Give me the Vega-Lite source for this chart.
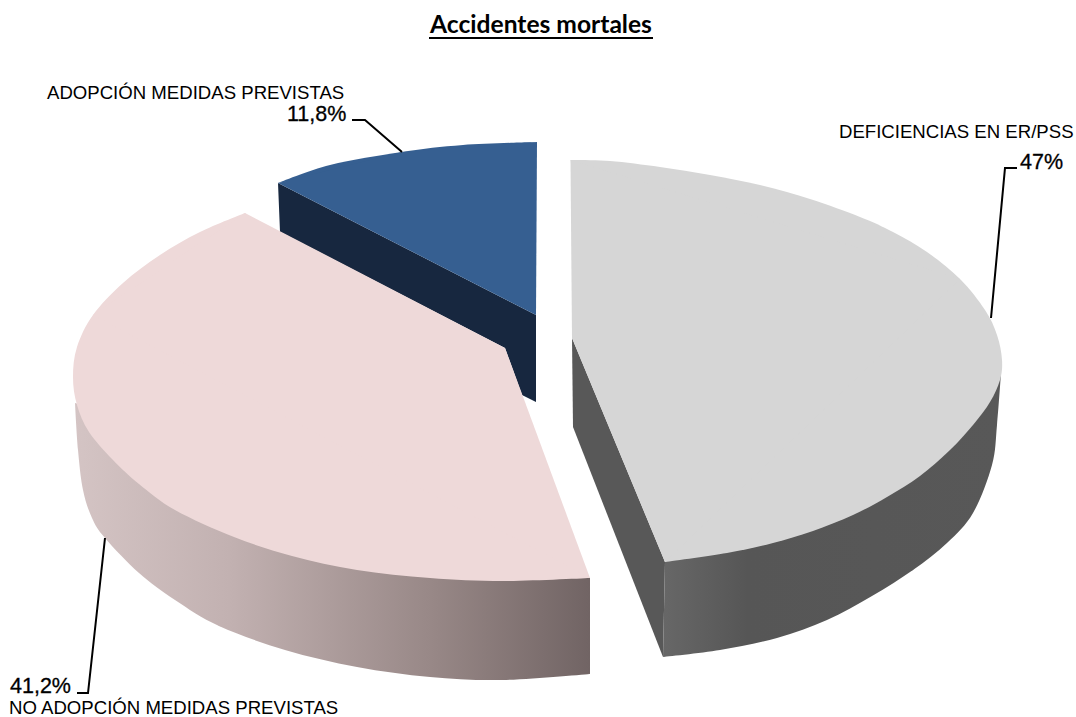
{
"$schema":"https://vega.github.io/schema/vega-lite/v6.json",
"width":1076,"height":717,"padding":0,"autosize":{"type":"none"},"background":"white",
"config":{"view":{"stroke":null}},
"datasets":{
"shapes":[
{"part":"gl","i":1,"x":572,"y":338},{"part":"gl","i":2,"x":665,"y":562},{"part":"gl","i":3,"x":663,"y":657},{"part":"gl","i":4,"x":573,"y":427},
{"part":"gwb","i":1,"x":1001,"y":373},{"part":"gwb","i":2,"x":997,"y":425},{"part":"gwb","i":3,"x":992,"y":465},{"part":"gwb","i":4,"x":973,"y":513},{"part":"gwb","i":5,"x":947,"y":543},{"part":"gwb","i":6,"x":913,"y":570},{"part":"gwb","i":7,"x":872,"y":596},{"part":"gwb","i":8,"x":827,"y":620},{"part":"gwb","i":9,"x":777,"y":638},{"part":"gwb","i":10,"x":720,"y":650},{"part":"gwb","i":11,"x":663,"y":657},
{"part":"gwp","i":1,"x":1001,"y":373},{"part":"gwp","i":2,"x":665,"y":562},{"part":"gwp","i":3,"x":663,"y":657},{"part":"gwp","i":4,"x":913,"y":570},
{"part":"gc","i":1,"x":570.5,"y":160},{"part":"gc","i":2,"x":610,"y":161},{"part":"gc","i":3,"x":660,"y":167},{"part":"gc","i":4,"x":710,"y":175},{"part":"gc","i":5,"x":760,"y":185},{"part":"gc","i":6,"x":810,"y":199},{"part":"gc","i":7,"x":860,"y":217},{"part":"gc","i":8,"x":893,"y":232},{"part":"gc","i":9,"x":927,"y":252},{"part":"gc","i":10,"x":960,"y":279},{"part":"gc","i":11,"x":985,"y":310},{"part":"gc","i":12,"x":997,"y":335},{"part":"gc","i":13,"x":1002,"y":360},{"part":"gc","i":14,"x":1000,"y":380},{"part":"gc","i":15,"x":990,"y":402},{"part":"gc","i":16,"x":973,"y":425},{"part":"gc","i":17,"x":950,"y":450},{"part":"gc","i":18,"x":920,"y":476},{"part":"gc","i":19,"x":887,"y":497},{"part":"gc","i":20,"x":853,"y":515},{"part":"gc","i":21,"x":813,"y":531},{"part":"gc","i":22,"x":773,"y":543},{"part":"gc","i":23,"x":727,"y":553},{"part":"gc","i":24,"x":665,"y":562},
{"part":"gp","i":1,"x":570.5,"y":160},{"part":"gp","i":2,"x":960,"y":279},{"part":"gp","i":3,"x":665,"y":562},{"part":"gp","i":4,"x":572,"y":338},
{"part":"al","i":1,"x":278,"y":183},{"part":"al","i":2,"x":536,"y":315},{"part":"al","i":3,"x":536,"y":402},{"part":"al","i":4,"x":522,"y":395},{"part":"al","i":5,"x":505,"y":348},{"part":"al","i":6,"x":280,"y":232},
{"part":"ac","i":1,"x":278,"y":183},{"part":"ac","i":2,"x":330,"y":165},{"part":"ac","i":3,"x":402,"y":152},{"part":"ac","i":4,"x":463,"y":145},{"part":"ac","i":5,"x":537,"y":142},
{"part":"ap","i":1,"x":278,"y":183},{"part":"ap","i":2,"x":402,"y":152},{"part":"ap","i":3,"x":537,"y":142},{"part":"ap","i":4,"x":536,"y":315},
{"part":"rwb","i":1,"x":75,"y":403},{"part":"rwb","i":2,"x":78,"y":450},{"part":"rwb","i":3,"x":83,"y":490},{"part":"rwb","i":4,"x":92,"y":518},{"part":"rwb","i":5,"x":105,"y":538},{"part":"rwb","i":6,"x":139,"y":573},{"part":"rwb","i":7,"x":175,"y":600},{"part":"rwb","i":8,"x":219,"y":626},{"part":"rwb","i":9,"x":285,"y":650},{"part":"rwb","i":10,"x":357,"y":667},{"part":"rwb","i":11,"x":430,"y":677},{"part":"rwb","i":12,"x":503,"y":680},{"part":"rwb","i":13,"x":590,"y":674},
{"part":"rwp","i":1,"x":75,"y":403},{"part":"rwp","i":2,"x":590,"y":578},{"part":"rwp","i":3,"x":590,"y":674},{"part":"rwp","i":4,"x":219,"y":626},
{"part":"rc","i":1,"x":245,"y":213},{"part":"rc","i":2,"x":200,"y":232},{"part":"rc","i":3,"x":160,"y":255},{"part":"rc","i":4,"x":123,"y":283},{"part":"rc","i":5,"x":93,"y":315},{"part":"rc","i":6,"x":77,"y":347},{"part":"rc","i":7,"x":73,"y":377},{"part":"rc","i":8,"x":77,"y":405},{"part":"rc","i":9,"x":89,"y":432},{"part":"rc","i":10,"x":113,"y":460},{"part":"rc","i":11,"x":139,"y":484},{"part":"rc","i":12,"x":175,"y":510},{"part":"rc","i":13,"x":234,"y":537},{"part":"rc","i":14,"x":292,"y":556},{"part":"rc","i":15,"x":357,"y":570},{"part":"rc","i":16,"x":430,"y":578},{"part":"rc","i":17,"x":503,"y":581},{"part":"rc","i":18,"x":590,"y":578},
{"part":"rp","i":1,"x":245,"y":213},{"part":"rp","i":2,"x":93,"y":315},{"part":"rp","i":3,"x":590,"y":578},{"part":"rp","i":4,"x":505,"y":348}
],
"leaders":[
{"part":"g","i":1,"x":991,"y":318},{"part":"g","i":2,"x":1005,"y":168},{"part":"g","i":3,"x":1017,"y":168},
{"part":"b","i":1,"x":352,"y":120},{"part":"b","i":2,"x":365,"y":120},{"part":"b","i":3,"x":402,"y":152},
{"part":"r","i":1,"x":105,"y":538},{"part":"r","i":2,"x":88,"y":693},{"part":"r","i":3,"x":77,"y":693},
{"part":"t","i":1,"x":429,"y":38},{"part":"t","i":2,"x":653,"y":38}
],
"cats":[
{"label":"DEFICIENCIAS EN ER/PSS","x":839,"y":132},
{"label":"ADOPCIÓN MEDIDAS PREVISTAS","x":47,"y":93},
{"label":"NO ADOPCIÓN MEDIDAS PREVISTAS","x":9,"y":708}
],
"pcts":[
{"label":"47%","share":47,"x":1020,"y":163},
{"label":"11,8%","share":11.8,"x":287,"y":115},
{"label":"41,2%","share":41.2,"x":10,"y":687}
],
"titles":[{"label":"Accidentes mortales","x":541,"y":26}]
},
"encoding":{
"x":{"field":"x","type":"quantitative","axis":null,"scale":{"domain":[0,1076],"nice":false,"zero":false}},
"y":{"field":"y","type":"quantitative","axis":null,"scale":{"domain":[717,0],"nice":false,"zero":false}}
},
"layer":[
{"data":{"name":"shapes"},"transform":[{"filter":"datum.part==='gl'"}],"mark":{"type":"line","fill":"#585858","strokeWidth":0},"encoding":{"order":{"field":"i"}}},
{"data":{"name":"shapes"},"transform":[{"filter":"datum.part==='gwb'"}],"mark":{"type":"line","interpolate":"cardinal","strokeWidth":0,"fill":{"gradient":"linear","x1":0,"x2":1,"y1":0,"y2":0,"stops":[{"offset":0,"color":"#676767"},{"offset":0.25,"color":"#565656"},{"offset":1,"color":"#585858"}]}},"encoding":{"order":{"field":"i"}}},
{"data":{"name":"shapes"},"transform":[{"filter":"datum.part==='gwp'"}],"mark":{"type":"line","strokeWidth":0,"fill":{"gradient":"linear","x1":0,"x2":1,"y1":0,"y2":0,"stops":[{"offset":0,"color":"#676767"},{"offset":0.25,"color":"#565656"},{"offset":1,"color":"#585858"}]}},"encoding":{"order":{"field":"i"}}},
{"data":{"name":"shapes"},"transform":[{"filter":"datum.part==='gc'"}],"mark":{"type":"line","interpolate":"cardinal","fill":"#d6d6d6","strokeWidth":0},"encoding":{"order":{"field":"i"}}},
{"data":{"name":"shapes"},"transform":[{"filter":"datum.part==='gp'"}],"mark":{"type":"line","fill":"#d6d6d6","strokeWidth":0},"encoding":{"order":{"field":"i"}}},
{"data":{"name":"shapes"},"transform":[{"filter":"datum.part==='al'"}],"mark":{"type":"line","fill":"#17273f","strokeWidth":0},"encoding":{"order":{"field":"i"}}},
{"data":{"name":"shapes"},"transform":[{"filter":"datum.part==='ac'"}],"mark":{"type":"line","interpolate":"cardinal","fill":"#365f91","strokeWidth":0},"encoding":{"order":{"field":"i"}}},
{"data":{"name":"shapes"},"transform":[{"filter":"datum.part==='ap'"}],"mark":{"type":"line","fill":"#365f91","strokeWidth":0},"encoding":{"order":{"field":"i"}}},
{"data":{"name":"shapes"},"transform":[{"filter":"datum.part==='rwb'"}],"mark":{"type":"line","interpolate":"cardinal","strokeWidth":0,"fill":{"gradient":"linear","x1":0,"x2":1,"y1":0,"y2":0,"stops":[{"offset":0,"color":"#d4c4c4"},{"offset":0.3,"color":"#c2b1b1"},{"offset":0.7,"color":"#978786"},{"offset":1,"color":"#716464"}]}},"encoding":{"order":{"field":"i"}}},
{"data":{"name":"shapes"},"transform":[{"filter":"datum.part==='rwp'"}],"mark":{"type":"line","strokeWidth":0,"fill":{"gradient":"linear","x1":0,"x2":1,"y1":0,"y2":0,"stops":[{"offset":0,"color":"#d4c4c4"},{"offset":0.3,"color":"#c2b1b1"},{"offset":0.7,"color":"#978786"},{"offset":1,"color":"#716464"}]}},"encoding":{"order":{"field":"i"}}},
{"data":{"name":"shapes"},"transform":[{"filter":"datum.part==='rc'"}],"mark":{"type":"line","interpolate":"cardinal","fill":"#eed9d9","strokeWidth":0},"encoding":{"order":{"field":"i"}}},
{"data":{"name":"shapes"},"transform":[{"filter":"datum.part==='rp'"}],"mark":{"type":"line","fill":"#eed9d9","strokeWidth":0},"encoding":{"order":{"field":"i"}}},
{"data":{"name":"leaders"},"mark":{"type":"line","color":"#000000","strokeWidth":2},"encoding":{"detail":{"field":"part"},"order":{"field":"i"}}},
{"data":{"name":"cats"},"mark":{"type":"text","align":"left","baseline":"middle","font":"Liberation Sans","fontSize":18.6,"color":"#000000"},"encoding":{"text":{"field":"label"}}},
{"data":{"name":"pcts"},"mark":{"type":"text","align":"left","baseline":"middle","font":"Liberation Sans","fontSize":21.5,"color":"#000000","stroke":"#000000","strokeWidth":0.3},"encoding":{"text":{"field":"label"}}},
{"data":{"name":"titles"},"mark":{"type":"text","align":"center","baseline":"middle","font":"Lato","fontSize":24.6,"fontWeight":"bold","color":"#000000"},"encoding":{"text":{"field":"label"}}}
]
}
